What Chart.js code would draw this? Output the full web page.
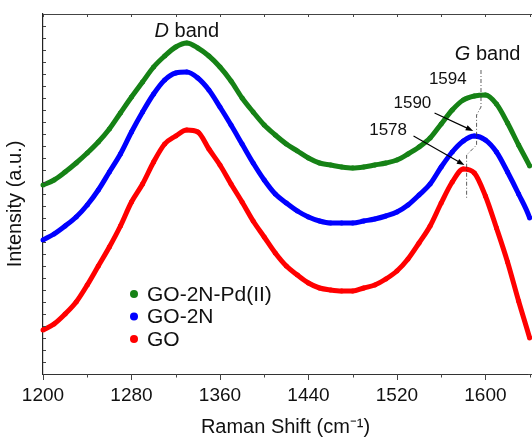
<!DOCTYPE html>
<html>
<head>
<meta charset="utf-8">
<script src="https://cdn.jsdelivr.net/npm/chart.js@4"></script>
<style>
  html, body { margin: 0; padding: 0; background: #fff; overflow: hidden; }
  canvas { display: block; }
</style>
</head>
<body>
<canvas id="c" width="532" height="440"></canvas>
<script>
// Raman shift positions (cm-1)
const shift = [1200, 1210, 1220, 1230, 1240, 1250, 1260, 1270, 1280, 1290,
  1300, 1310, 1320, 1330, 1340, 1350, 1360, 1370, 1380, 1390,
  1400, 1410, 1420, 1430, 1440, 1450, 1460, 1470, 1480, 1490,
  1500, 1510, 1520, 1530, 1540, 1550, 1560, 1570, 1580, 1590,
  1600, 1610, 1620, 1630, 1640, 1643];

// intensities, arbitrary units (stacked with offsets as in the figure)
const goPd = [189, 194, 202, 211, 221, 232, 245, 261, 277, 292,
  307, 318, 327, 331, 326, 318, 307, 293, 276, 262,
  249, 239, 230, 223, 216, 211, 209, 207, 206, 207,
  209, 211, 214, 220, 227, 236, 250, 264, 274, 278,
  279, 270, 251, 229, 208, 201];
const go2n = [134, 140, 148, 157, 169, 184, 202, 220, 242, 262,
  280, 294, 301, 302, 296, 284, 267, 249, 230, 211,
  194, 180, 171, 163, 157, 153, 151, 151, 151, 153,
  155, 158, 162, 169, 179, 190, 207, 222, 233, 238,
  234, 222, 202, 180, 156, 144];
const go = [44, 50, 60, 72, 89, 108, 127, 148, 172, 190,
  212, 230, 238, 244, 242, 225, 209, 190, 172, 153,
  137, 121, 108, 99, 91, 86, 84, 83, 83, 86,
  89, 95, 103, 115, 131, 148, 171, 192, 205, 201,
  178, 146, 112, 73, 36, 24];

const seriesNames = ['GO-2N-Pd(II)', 'GO-2N', 'GO'];
const xTicks = [1200, 1280, 1360, 1440, 1520, 1600];

// peak guide (dash-dot) and arrows, in data units
const guide = [[1596, 304], [1596, 267], [1592, 259], [1592, 229], [1583, 219], [1583, 176]];
const arrows = [[[1554, 261], [1589, 243]], [[1535, 238], [1581, 209]]];
const peakLabels = [['1594', 1566, 295], ['1590', 1534, 271], ['1578', 1512, 244]];

const FONT = '"Liberation Sans", Arial, Helvetica, sans-serif';
const INK = '#111';

function pts(vals) {
  return shift.map((s, i) => ({ x: s, y: vals[i] }));
}

function series(label, vals, color) {
  return {
    label: label,
    data: pts(vals),
    borderColor: color,
    backgroundColor: color,
    borderWidth: 5,
    pointRadius: 2.5,
    pointBorderWidth: 0,
    cubicInterpolationMode: 'monotone',
    showLine: true,
    clip: false   // figure is cropped at the canvas edge, not at the axis
  };
}

const decor = {
  id: 'decor',
  afterDatasetsDraw(chart) {
    const { ctx, chartArea: a, scales: { x, y } } = chart;
    ctx.save();

    // frame top + ticks
    ctx.strokeStyle = '#444';
    ctx.lineWidth = 1;
    ctx.beginPath();
    ctx.moveTo(a.left, a.top + 0.5);
    ctx.lineTo(chart.width, a.top + 0.5);
    ctx.moveTo(a.right, a.bottom + 0.5);
    ctx.lineTo(chart.width, a.bottom + 0.5);
    for (let v = 1200; v <= 1640; v += 40) {
      const px = Math.round(x.getPixelForValue(v)) + 0.5;
      ctx.moveTo(px, a.top);
      ctx.lineTo(px, a.top + 3);
      const len = (v % 80 === 0) ? 6 : 3.5;
      ctx.moveTo(px, a.bottom);
      ctx.lineTo(px, a.bottom + len);
    }
    for (let v = 12; v < 360; v += 12) {
      const py = Math.round(y.getPixelForValue(v)) + 0.5;
      ctx.moveTo(a.left, py);
      ctx.lineTo(a.left + 3, py);
    }
    ctx.stroke();

    // dash-dot guide through the G peaks
    ctx.strokeStyle = '#333';
    ctx.lineWidth = 0.8;
    ctx.setLineDash([4, 2, 1, 2]);
    ctx.beginPath();
    guide.forEach((p, i) => {
      const px = x.getPixelForValue(p[0]), py = y.getPixelForValue(p[1]);
      if (i === 0) ctx.moveTo(px, py); else ctx.lineTo(px, py);
    });
    ctx.stroke();
    ctx.setLineDash([]);

    // arrows
    ctx.strokeStyle = '#000';
    ctx.fillStyle = '#000';
    ctx.lineWidth = 1.2;
    arrows.forEach(ar => {
      const x0 = x.getPixelForValue(ar[0][0]), y0 = y.getPixelForValue(ar[0][1]);
      const x1 = x.getPixelForValue(ar[1][0]), y1 = y.getPixelForValue(ar[1][1]);
      const ang = Math.atan2(y1 - y0, x1 - x0);
      ctx.beginPath();
      ctx.moveTo(x0, y0);
      ctx.lineTo(x1 - 5 * Math.cos(ang), y1 - 5 * Math.sin(ang));
      ctx.stroke();
      ctx.beginPath();
      ctx.moveTo(x1, y1);
      ctx.lineTo(x1 - 8 * Math.cos(ang - 0.35), y1 - 8 * Math.sin(ang - 0.35));
      ctx.lineTo(x1 - 8 * Math.cos(ang + 0.35), y1 - 8 * Math.sin(ang + 0.35));
      ctx.closePath();
      ctx.fill();
    });

    // peak labels
    ctx.fillStyle = INK;
    ctx.font = '17px ' + FONT;
    ctx.textAlign = 'center';
    ctx.textBaseline = 'middle';
    peakLabels.forEach(l => {
      ctx.fillText(l[0], x.getPixelForValue(l[1]), y.getPixelForValue(l[2]));
    });

    // band names: italic letter + " band"
    function band(letter, xv, yv) {
      const cx = x.getPixelForValue(xv), cy = y.getPixelForValue(yv);
      ctx.font = 'italic 20px ' + FONT;
      const w1 = ctx.measureText(letter).width;
      ctx.font = '20px ' + FONT;
      const w2 = ctx.measureText(' band').width;
      const left = cx - (w1 + w2) / 2;
      ctx.textAlign = 'left';
      ctx.font = 'italic 20px ' + FONT;
      ctx.fillText(letter, left, cy);
      ctx.font = '20px ' + FONT;
      ctx.fillText(' band', left + w1, cy);
    }
    band('D', 1330, 343);
    band('G', 1602, 320);

    // legend inside the plot
    ctx.font = '21px ' + FONT;
    ctx.textAlign = 'left';
    chart.data.datasets.forEach((ds, i) => {
      const ly = 294 + i * 22.5;
      ctx.fillStyle = ds.borderColor;
      ctx.beginPath();
      ctx.arc(134, ly, 4, 0, Math.PI * 2);
      ctx.fill();
      ctx.fillStyle = INK;
      ctx.fillText(ds.label, 147, ly + 1);
    });

    // y title
    ctx.save();
    ctx.translate(15, 204);
    ctx.rotate(-Math.PI / 2);
    ctx.textAlign = 'center';
    ctx.font = '20px ' + FONT;
    ctx.fillStyle = INK;
    ctx.fillText('Intensity (a.u.)', 0, 0);
    ctx.restore();

    ctx.restore();
  }
};

new Chart(document.getElementById('c'), {
  type: 'scatter',
  data: {
    datasets: [
      series(seriesNames[0], goPd, 'rgb(22,130,22)'),
      series(seriesNames[1], go2n, 'rgb(0,0,255)'),
      series(seriesNames[2], go, 'rgb(255,0,0)')
    ]
  },
  options: {
    responsive: false,
    animation: false,
    layout: { padding: { top: 14, right: 0, left: 0, bottom: 0 } },
    plugins: { legend: { display: false }, tooltip: { enabled: false } },
    scales: {
      x: {
        type: 'linear',
        min: 1200,
        max: 1638.5,   // chart area stops ~5px short of the canvas; spectra run on past it
        afterFit(s) {
          s.height = 66;
          s.paddingLeft = 0;
          s.paddingRight = 0;
        },
        afterBuildTicks(s) { s.ticks = xTicks.map(v => ({ value: v })); },
        grid: { display: false, drawTicks: false },
        border: { display: true, color: '#333', width: 1 },
        ticks: {
          color: INK,
          padding: 10,
          maxRotation: 0,
          autoSkip: false,
          font: { family: FONT, size: 19 },
          callback: v => String(v)
        },
        title: {
          display: true,
          text: 'Raman Shift (cm\u207B\u00B9)',
          color: INK,
          padding: { top: 4, bottom: 1 },
          font: { family: FONT, size: 20 }
        }
      },
      y: {
        min: 0,
        max: 360,
        afterFit(s) { s.width = 43; },
        grid: { display: false, drawTicks: false },
        border: { display: true, color: '#222', width: 1.2 },
        ticks: { display: false }
      }
    }
  },
  plugins: [decor]
});
</script>
</body>
</html>
